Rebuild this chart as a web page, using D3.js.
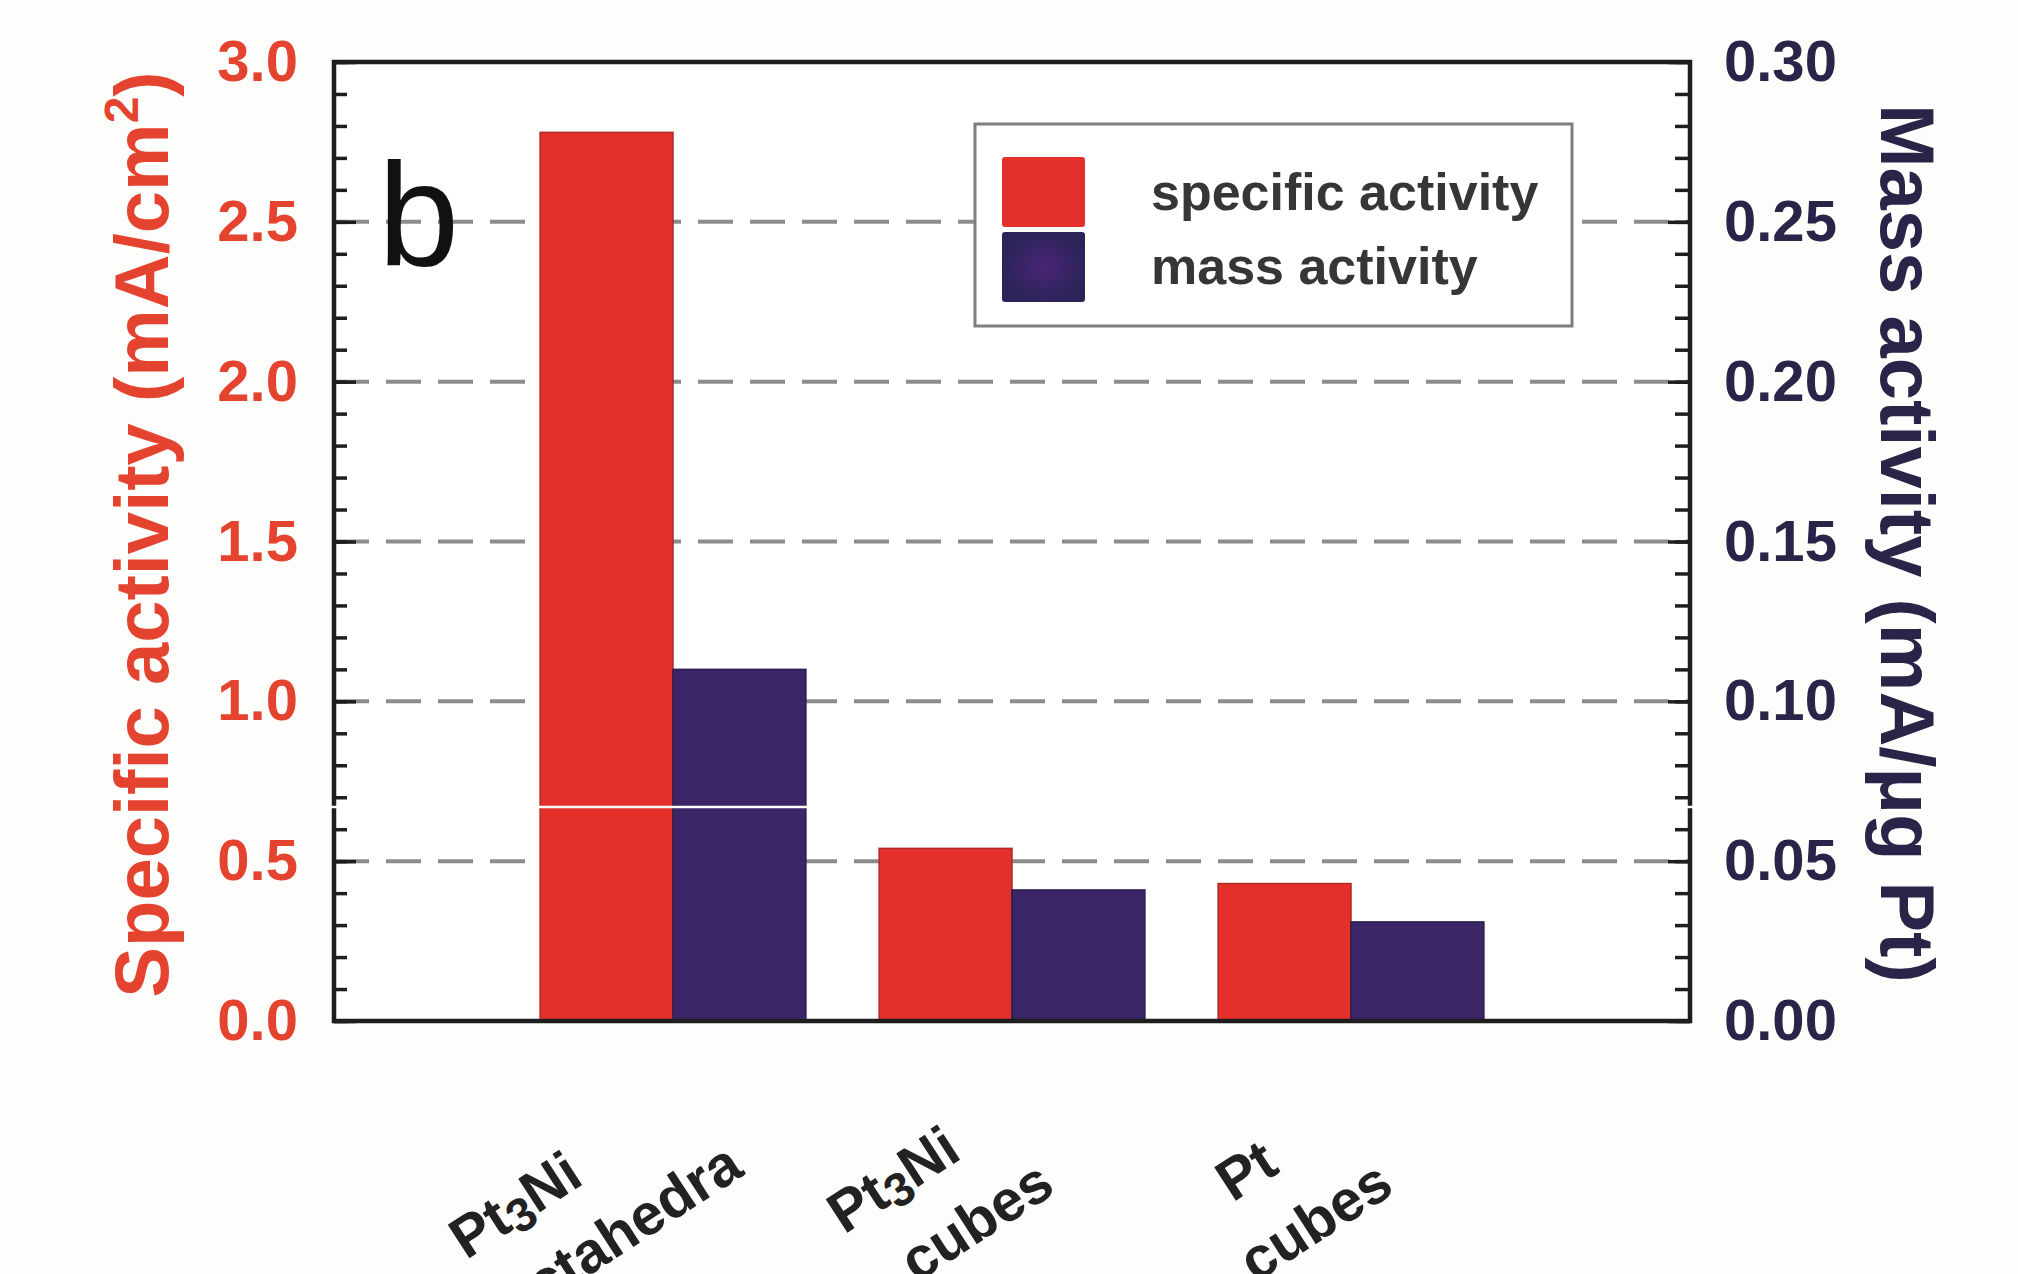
<!DOCTYPE html>
<html>
<head>
<meta charset="utf-8">
<script src="https://cdn.jsdelivr.net/npm/d3@7"></script>
<style>
  body { margin: 0; background: #fdfdfb; }
  svg { display: block; font-family: "Liberation Sans", Arial, sans-serif; }
</style>
</head>
<body>
<script>
// categories: first line split as [base, subscript, rest], second line
var categories = ["Pt3Ni octahedra", "Pt3Ni cubes", "Pt cubes"];
var labelLine1 = [["Pt", "3", "Ni"], ["Pt", "3", "Ni"], ["Pt", "", ""]];
var labelLine2 = ["octahedra", "cubes", "cubes"];
var specificActivity = [2.78, 0.54, 0.43];   // mA/cm2, left axis
var massActivity = [0.110, 0.041, 0.031];    // mA/ug Pt, right axis
var leftTicks = [0.0, 0.5, 1.0, 1.5, 2.0, 2.5, 3.0];
var rightTicks = [0.00, 0.05, 0.10, 0.15, 0.20, 0.25, 0.30];
var gridValues = [0.5, 1.0, 1.5, 2.0, 2.5];
var legendNames = ["specific activity", "mass activity"];

var W = 2018, H = 1274;
var plot = {l: 334, r: 1690, t: 62, b: 1021};
var red = "#e3302a", navy = "#3a2667";
var redText = "#e4432f", navyText = "#2a2448";

var svg = d3.select("body").append("svg")
    .attr("width", W).attr("height", H);

svg.append("rect").attr("width", W).attr("height", H).attr("fill", "#fdfdfb");

// x: categories sit at 1, 2, 3 on a 0..4 axis
var x = d3.scaleLinear().domain([0, 4]).range([plot.l, plot.r]);
var yL = d3.scaleLinear().domain([0, 3]).range([plot.b, plot.t]);
var yR = d3.scaleLinear().domain([0, 0.3]).range([plot.b, plot.t]);
var barW = x(0.392) - x(0);

var layout = {};
layout.bg = svg.append("g");
layout.grid = svg.append("g");
layout.bars = svg.append("g");
layout.legend = svg.append("g");
layout.axes = svg.append("g");
layout.labels = svg.append("g");

layout.bg.append("rect")
    .attr("x", plot.l).attr("y", plot.t)
    .attr("width", plot.r - plot.l).attr("height", plot.b - plot.t)
    .attr("fill", "#ffffff");

// dashed grid
layout.grid.selectAll("line").data(gridValues).enter().append("line")
    .attr("x1", plot.l).attr("x2", plot.r)
    .attr("y1", function(d) { return yL(d); })
    .attr("y2", function(d) { return yL(d); })
    .attr("stroke", "#8c8c8c").attr("stroke-width", 4)
    .attr("stroke-dasharray", "35,17");

// bars
layout.bars.selectAll("rect.sa").data(specificActivity).enter().append("rect")
    .attr("class", "sa")
    .attr("x", function(d, i) { return x(i + 1) - barW; })
    .attr("y", function(d) { return yL(d); })
    .attr("width", barW)
    .attr("height", function(d) { return yL(0) - yL(d); })
    .attr("fill", red).attr("stroke", "#b02a28").attr("stroke-width", 1.5);

layout.bars.selectAll("rect.ma").data(massActivity).enter().append("rect")
    .attr("class", "ma")
    .attr("x", function(d, i) { return x(i + 1); })
    .attr("y", function(d) { return yR(d); })
    .attr("width", barW)
    .attr("height", function(d) { return yR(0) - yR(d); })
    .attr("fill", navy).attr("stroke", "#2a1d4d").attr("stroke-width", 1.5);

// legend
var lg = layout.legend;
lg.append("rect")
    .attr("x", 975).attr("y", 124).attr("width", 597).attr("height", 202)
    .attr("fill", "#ffffff").attr("stroke", "#7e7e7e").attr("stroke-width", 3);
var defs = svg.append("defs");
var grad = defs.append("radialGradient").attr("id", "navygrad");
grad.append("stop").attr("offset", "0%").attr("stop-color", "#4a2478");
grad.append("stop").attr("offset", "100%").attr("stop-color", "#2c2458");
lg.selectAll("rect.sw").data(legendNames).enter().append("rect")
    .attr("class", "sw")
    .attr("x", 1002).attr("y", function(d, i) { return 157 + i * 75; })
    .attr("width", 83).attr("height", 70).attr("rx", 3)
    .attr("fill", function(d, i) { return i == 0 ? red : "url(#navygrad)"; });
lg.selectAll("text").data(legendNames).enter().append("text")
    .attr("x", 1151).attr("y", function(d, i) { return 210 + i * 74; })
    .attr("font-size", 52).attr("font-weight", "bold").attr("fill", "#363636")
    .text(function(d) { return d; });

// frame
layout.axes.append("rect")
    .attr("x", plot.l).attr("y", plot.t)
    .attr("width", plot.r - plot.l).attr("height", plot.b - plot.t)
    .attr("fill", "none").attr("stroke", "#1e1e1e").attr("stroke-width", 4.5);

// minor ticks, inward
layout.axes.append("g").attr("transform", "translate(" + plot.l + ",0)")
    .call(d3.axisLeft(yL).tickValues(d3.range(0, 31).map(function(i) { return i / 10; }))
        .tickSize(-13).tickFormat(""));
layout.axes.append("g").attr("transform", "translate(" + plot.r + ",0)")
    .call(d3.axisRight(yR).tickValues(d3.range(0, 31).map(function(i) { return i / 100; }))
        .tickSize(-15).tickFormat(""));

// major ticks + labels
layout.axes.append("g").attr("class", "yl").attr("transform", "translate(" + plot.l + ",0)")
    .call(d3.axisLeft(yL).tickValues(leftTicks).tickSize(-22).tickPadding(36)
        .tickFormat(d3.format(".1f")));
layout.axes.append("g").attr("class", "yr").attr("transform", "translate(" + plot.r + ",0)")
    .call(d3.axisRight(yR).tickValues(rightTicks).tickSize(-22).tickPadding(34)
        .tickFormat(d3.format(".2f")));

layout.axes.selectAll(".domain").remove();
layout.axes.selectAll(".tick line").attr("stroke", "#1e1e1e").attr("stroke-width", 3.5);
layout.axes.selectAll(".tick text")
    .attr("font-family", "Liberation Sans, Arial, sans-serif")
    .attr("font-size", 58).attr("font-weight", "bold");
layout.axes.selectAll(".yl .tick text").attr("fill", redText);
layout.axes.selectAll(".yr .tick text").attr("fill", navyText);

// seam in the scanned figure
layout.axes.append("line")
    .attr("x1", plot.l - 4).attr("x2", plot.r + 4)
    .attr("y1", 807).attr("y2", 807)
    .attr("stroke", "#ffffff").attr("stroke-width", 2.5);

// panel letter
layout.labels.append("text")
    .attr("x", 378).attr("y", 265)
    .attr("font-size", 146).attr("fill", "#111")
    .text("b");

// axis titles
var tl = layout.labels.append("text")
    .attr("transform", "translate(168," + ((plot.t + plot.b) / 2 - 7) + ") rotate(-90)")
    .attr("text-anchor", "middle")
    .attr("font-size", 76).attr("font-weight", "bold").attr("fill", redText);
tl.append("tspan").text("Specific activity (mA/cm");
tl.append("tspan").attr("font-size", 48).attr("dy", -30).text("2");
tl.append("tspan").attr("dy", 30).text(")");

layout.labels.append("text")
    .attr("transform", "translate(1881," + ((plot.t + plot.b) / 2 + 2) + ") rotate(90)")
    .attr("text-anchor", "middle")
    .attr("font-size", 76).attr("font-weight", "bold").attr("fill", navyText)
    .text("Mass activity (mA/\u03bcg Pt)");

// category labels, rotated
categories.forEach(function(c, i) {
    var g = layout.labels.append("g")
        .attr("transform", "translate(" + (x(i + 1) + 45) + ",1192) rotate(-33)")
        .attr("font-size", 58).attr("font-weight", "bold").attr("fill", "#222");
    var t2 = g.append("text").attr("text-anchor", "end").text(labelLine2[i]);
    var w2 = t2.node().getComputedTextLength();
    var x2 = 0.3 * w2 - 50;
    t2.attr("x", x2);
    var t1 = g.append("text").attr("y", -80);
    var p = labelLine1[i];
    t1.append("tspan").text(p[0]);
    if (p[1]) {
        t1.append("tspan").attr("font-size", 47).attr("dy", 8).text(p[1]);
        t1.append("tspan").attr("dy", -8).text(p[2]);
    }
    var w1 = t1.node().getComputedTextLength();
    t1.attr("x", x2 - 0.725 * w2 + 19 - 0.7 * w1);
});
</script>
</body>
</html>
